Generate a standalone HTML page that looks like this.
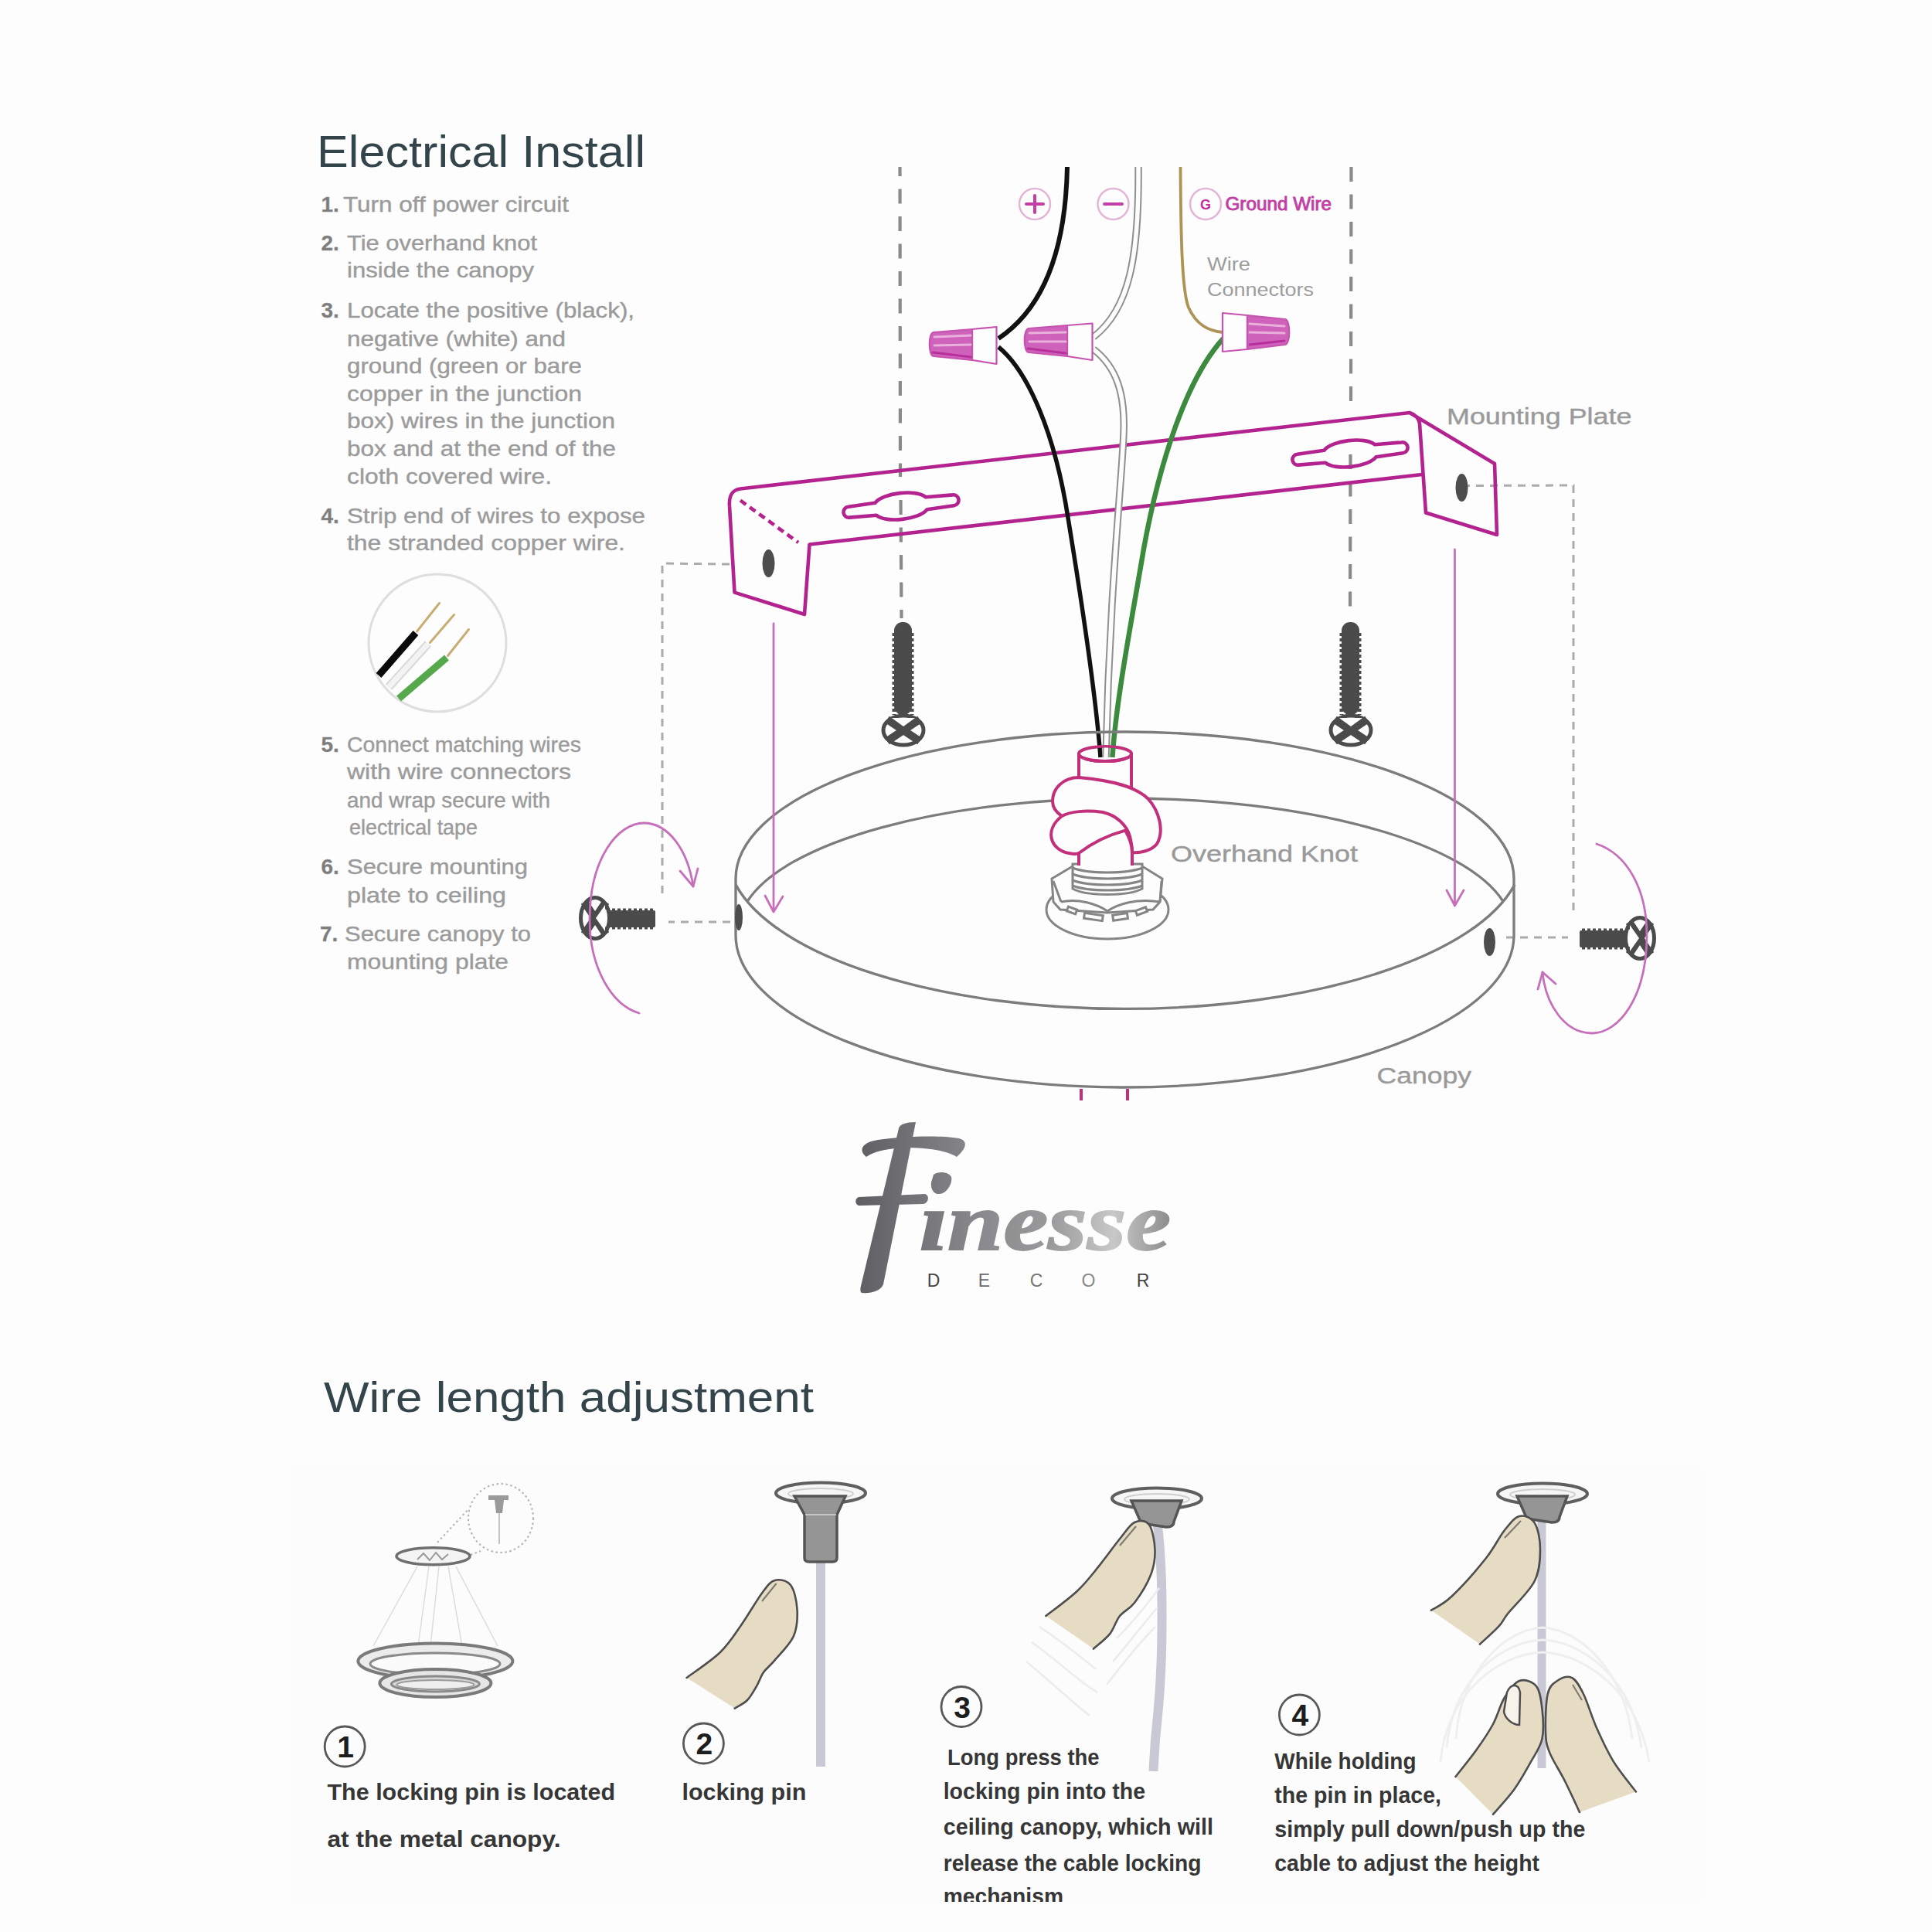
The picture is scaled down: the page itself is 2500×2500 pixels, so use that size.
<!DOCTYPE html>
<html>
<head>
<meta charset="utf-8">
<style>
html,body{margin:0;padding:0;background:#fdfdfd;}
body{width:2500px;height:2500px;overflow:hidden;}
svg{display:block;}
text{font-family:"Liberation Sans",sans-serif;}
</style>
</head>
<body>
<svg width="2500" height="2500" viewBox="0 0 2500 2500">
<rect x="0" y="0" width="2500" height="2500" fill="#fdfdfd"/>

<!-- ============ HEADINGS ============ -->
<g fill="#33454a">
<text x="410" y="216" font-size="57.5" textLength="425" lengthAdjust="spacingAndGlyphs">Electrical Install</text>
<text x="419" y="1826.5" font-size="55.5" textLength="634" lengthAdjust="spacingAndGlyphs">Wire length adjustment</text>
</g>

<!-- ============ LEFT COLUMN ============ -->
<g font-size="28" fill="#9b9b9b" stroke="#9b9b9b" stroke-width="0.4">
<g fill="#7c7c7c" font-weight="bold">
<text x="415.5" y="273.5">1.</text>
<text x="415.5" y="324">2.</text>
<text x="415.5" y="411.4">3.</text>
<text x="415.5" y="677">4.</text>
<text x="415.5" y="972.5">5.</text>
<text x="415.5" y="1130.7">6.</text>
<text x="414" y="1218.2">7.</text>
</g>
<text x="444" y="273.7" textLength="292" lengthAdjust="spacingAndGlyphs">Turn off power circuit</text>
<text x="449" y="324" textLength="246" lengthAdjust="spacingAndGlyphs">Tie overhand knot</text>
<text x="449" y="359" textLength="242" lengthAdjust="spacingAndGlyphs">inside the canopy</text>
<text x="449" y="411.4" textLength="372" lengthAdjust="spacingAndGlyphs">Locate the positive (black),</text>
<text x="449" y="447.5" textLength="283" lengthAdjust="spacingAndGlyphs">negative (white) and</text>
<text x="449" y="482.5" textLength="304" lengthAdjust="spacingAndGlyphs">ground (green or bare</text>
<text x="449" y="518.6" textLength="304" lengthAdjust="spacingAndGlyphs">copper in the junction</text>
<text x="449" y="554.2" textLength="347" lengthAdjust="spacingAndGlyphs">box) wires in the junction</text>
<text x="449" y="589.6" textLength="348" lengthAdjust="spacingAndGlyphs">box and at the end of the</text>
<text x="449" y="625.7" textLength="265" lengthAdjust="spacingAndGlyphs">cloth covered wire.</text>
<text x="449" y="677" textLength="386" lengthAdjust="spacingAndGlyphs">Strip end of wires to expose</text>
<text x="449" y="712" textLength="360" lengthAdjust="spacingAndGlyphs">the stranded copper wire.</text>
<text x="449" y="972.5" textLength="303" lengthAdjust="spacingAndGlyphs">Connect matching wires</text>
<text x="449" y="1007.9" textLength="290" lengthAdjust="spacingAndGlyphs">with wire connectors</text>
<text x="449" y="1044.9" textLength="263" lengthAdjust="spacingAndGlyphs">and wrap secure with</text>
<text x="452" y="1080.2" textLength="166" lengthAdjust="spacingAndGlyphs">electrical tape</text>
<text x="449" y="1130.7" textLength="234" lengthAdjust="spacingAndGlyphs">Secure mounting</text>
<text x="449" y="1167.7" textLength="206" lengthAdjust="spacingAndGlyphs">plate to ceiling</text>
<text x="446" y="1218.2" textLength="241" lengthAdjust="spacingAndGlyphs">Secure canopy to</text>
<text x="449" y="1253.5" textLength="209" lengthAdjust="spacingAndGlyphs">mounting plate</text>
</g>

<!-- wire strip circle -->
<g>
<circle cx="566" cy="832" r="89" fill="none" stroke="#dedede" stroke-width="3"/>
<line x1="539.5" y1="817" x2="568.5" y2="780.5" stroke="#c8ae74" stroke-width="3" stroke-linecap="round"/>
<line x1="556.5" y1="831.5" x2="587.5" y2="795.5" stroke="#c8ae74" stroke-width="3" stroke-linecap="round"/>
<line x1="579.5" y1="848.5" x2="606.5" y2="814.5" stroke="#c8ae74" stroke-width="3" stroke-linecap="round"/>
<line x1="490" y1="874" x2="538" y2="819" stroke="#0a0a0a" stroke-width="9"/>
<line x1="503" y1="889" x2="554" y2="833" stroke="#d9d9d9" stroke-width="11"/>
<line x1="503" y1="889" x2="554" y2="833" stroke="#f3f3f3" stroke-width="7"/>
<line x1="516" y1="904" x2="578" y2="851" stroke="#56a84c" stroke-width="9"/>
</g>

<!--DIAGRAM-->
<!-- ============ DIAGRAM ============ -->
<g id="diagram">
<!-- grey dashed guides -->
<g fill="none" stroke="#8a8a8a" stroke-width="4.2" stroke-dasharray="19 16.5">
<line x1="1164.5" y1="216" x2="1165" y2="617" stroke-dashoffset="7"/>
<line x1="1165.5" y1="647" x2="1166.5" y2="800"/>
<line x1="1748.5" y1="216" x2="1748" y2="521"/>
<line x1="1747.5" y1="588" x2="1747" y2="793"/>
</g>
<g fill="none" stroke="#ababab" stroke-width="3" stroke-dasharray="10 8">
<polyline points="944,730 857,729 857,1160"/>
<line x1="945" y1="1193" x2="865" y2="1193"/>
<polyline points="1892,628.5 2036,628 2036,1180"/>
<line x1="1949" y1="1213" x2="2029" y2="1213"/>
</g>

<!-- mounting plate -->
<g fill="none" stroke="#b3238f" stroke-width="4.6" stroke-linejoin="round">
<path d="M944,655 C943,640 948,634 958,632.5 L1824,534 L1934,600 L1937,692 L1845,663.5 L1837,548 C1836,540 1830,536 1824,534"/>
<path d="M944,655 L950.5,766.6 L1041,795 L1047.5,704.5 L1840,614"/>
<line x1="958" y1="647.5" x2="1033" y2="702" stroke-dasharray="9 6"/>
<path transform="translate(1166,655) rotate(-6.5)" d="M-68,-7 L-33,-8 C-22,-20 22,-20 33,-8 L68,-7 A7,7 0 0 1 68,7 L33,8 C22,20 -22,20 -33,8 L-68,7 A7,7 0 0 1 -68,-7 Z"/>
<path transform="translate(1747,587) rotate(-6.5)" d="M-68,-7 L-33,-8 C-22,-20 22,-20 33,-8 L68,-7 A7,7 0 0 1 68,7 L33,8 C22,20 -22,20 -33,8 L-68,7 A7,7 0 0 1 -68,-7 Z"/>
</g>
<ellipse cx="994.5" cy="729" rx="8" ry="18" fill="#4d4d4d"/>
<ellipse cx="1891.5" cy="631" rx="8" ry="18" fill="#4d4d4d"/>

<!-- wires -->
<g id="wires" fill="none" stroke-linecap="butt">
<path d="M1381,216 C1379,320 1352,398 1292,438" stroke="#111" stroke-width="6"/>
<path d="M1292,449 C1330,480 1365,560 1382,670 C1400,780 1418,900 1424,980" stroke="#111" stroke-width="5.5"/>
<path d="M1473,216 C1474,330 1462,400 1415,436 M1415,452 C1445,475 1456,510 1454,560 C1452,620 1436,760 1431,980" stroke="#8f8f8f" stroke-width="9.5"/>
<path d="M1473,216 C1474,330 1462,400 1415,436 M1415,452 C1445,475 1456,510 1454,560 C1452,620 1436,760 1431,980" stroke="#fdfdfd" stroke-width="5.5"/>
<path d="M1527.5,216 C1528,300 1529,375 1538,398 C1548,420 1563,428 1582,430" stroke="#ad9455" stroke-width="3.8"/>
<path d="M1583,438 C1535,490 1500,600 1480,710 C1465,800 1445,900 1439.4,980" stroke="#3b8a3e" stroke-width="6.5"/>
</g>
<!-- wire connectors -->
<g stroke="#c654ae" stroke-width="2.2" stroke-linejoin="round">
<path d="M1258,426 L1289.5,423 L1289.5,471 L1258,466 Z" fill="#fdfdfd"/>
<path d="M1258,426 L1208,430 C1201,431 1201,460 1208,461 L1258,466 Z" fill="#cf62ba"/>
<path d="M1381,421 L1413.5,418.5 L1413.5,466 L1381,461 Z" fill="#fdfdfd"/>
<path d="M1381,421 L1331,425 C1324,426 1324,455 1331,456 L1381,461 Z" fill="#cf62ba"/>
<path d="M1614,408 L1582,405 L1582,455 L1614,452 Z" fill="#fdfdfd"/>
<path d="M1614,408 L1663,413 C1670,414 1670,445 1663,446 L1614,452 Z" fill="#cf62ba"/>
</g>
<g fill="none" stroke-linecap="round">
<path d="M1209,436 L1256,434 M1209,447 L1256,446" stroke="#e8b0da" stroke-width="3"/>
<path d="M1332,431 L1379,430 M1332,442 L1379,442" stroke="#e8b0da" stroke-width="3"/>
<path d="M1617,419 L1662,422 M1617,430 L1662,431" stroke="#e8b0da" stroke-width="3"/>
<path d="M1207,456 L1256,462 M1330,451 L1379,457 M1617,446 L1662,441" stroke="#b8309c" stroke-width="3"/>
</g>

<!-- + - G symbols -->
<g fill="none" stroke="#e2b5d7" stroke-width="2.5">
<circle cx="1339" cy="264" r="20"/>
<circle cx="1440.5" cy="264" r="20"/>
<circle cx="1560" cy="264" r="20"/>
</g>
<g stroke="#c23fa6" stroke-width="4" stroke-linecap="round">
<line x1="1328" y1="264" x2="1350" y2="264"/>
<line x1="1339" y1="253" x2="1339" y2="275"/>
<line x1="1429" y1="264" x2="1452" y2="264"/>
</g>
<text x="1553" y="270.5" font-size="18" font-weight="bold" fill="#c0309f">G</text>
<text x="1585.5" y="272" font-size="23" fill="#c23fa6" stroke="#c23fa6" stroke-width="0.9" textLength="137.5" lengthAdjust="spacingAndGlyphs">Ground Wire</text>
<g fill="#9d9d9d" font-size="23">
<text x="1562" y="350" textLength="56" lengthAdjust="spacingAndGlyphs">Wire</text>
<text x="1562" y="383" textLength="138" lengthAdjust="spacingAndGlyphs">Connectors</text>
</g>

<!-- canopy -->
<g fill="none" stroke="#7c7c7c" stroke-width="3.3">
<path d="M952,1137 A503.5,190 0 0 1 1959,1137"/>
<path d="M952,1137 L952,1208 A503.5,197 0 0 0 1959,1212 L1959,1137"/>
<path d="M952,1144.6 A515,202.5 0 0 0 1960,1144.6"/>
<path d="M967,1166.5 A500,168.7 0 0 1 1945,1166.5"/>
</g>
<ellipse cx="956" cy="1187" rx="5" ry="17" fill="#4d4d4d"/>
<ellipse cx="1927.5" cy="1219" rx="7.5" ry="18" fill="#4d4d4d"/>

<!-- nut -->
<g fill="#fdfdfd" stroke="#858585" stroke-width="3">
<ellipse cx="1433" cy="1177" rx="79" ry="38"/>
<path d="M1361,1137 L1388,1121 L1478,1121 L1504,1137 L1501,1167 L1492,1177 L1433,1181 L1372,1177 L1363,1167 Z"/>
<path d="M1373,1167 C1395,1162 1420,1170 1433,1179 C1446,1170 1471,1162 1501,1167" fill="none"/>
<path d="M1363,1140 L1373,1167 M1503,1140 L1501,1167" fill="none"/>
<rect x="1381" y="1175" width="12" height="6" transform="rotate(20 1387 1178)"/>
<rect x="1403" y="1183" width="24" height="7" transform="rotate(8 1415 1186)"/>
<rect x="1440" y="1183" width="19" height="7" transform="rotate(-8 1449 1186)"/>
<rect x="1470" y="1176" width="14" height="6" transform="rotate(-20 1477 1179)"/>
<path d="M1388,1118 L1478,1118 L1478,1150 C1460,1160 1406,1160 1388,1150 Z"/>
<path d="M1388,1123 C1408,1131 1458,1131 1478,1123 M1388,1131 C1408,1139 1458,1139 1478,1131 M1388,1139 C1408,1147 1458,1147 1478,1139 M1388,1146 C1408,1154 1458,1154 1478,1146" fill="none"/>
</g>

<!-- knot -->
<g fill="#fdfdfd" stroke="#c2307c" stroke-width="4" stroke-linejoin="round">
<path d="M1396,1095 L1396,1120 L1465,1120 L1465,1090 Z" stroke="none"/>
<line x1="1396" y1="1104" x2="1396" y2="1120"/>
<line x1="1465" y1="1092" x2="1465" y2="1120"/>
<path d="M1396,975 L1396,1010 L1464,1020 L1464,975 Z"/>
<ellipse cx="1430" cy="975.5" rx="34" ry="9.5"/>
<path d="M1374,1056 C1350,1075 1360,1100 1383,1104 C1388,1105 1394,1105 1396,1104 C1405,1097 1425,1083 1456,1074.6 C1462,1085 1465,1095 1465,1103 C1475,1104 1490,1101 1497,1092 C1507,1075 1500,1050 1486,1034 C1470,1018 1440,1010 1396,1006 C1376,1006 1362,1020 1362,1037 C1362,1046 1368,1052 1374,1056 Z"/>
<path d="M1374,1056 C1385,1050 1405,1048 1427,1051 C1445,1055 1458,1068 1462,1082 C1464,1090 1465,1096 1465,1103" fill="none"/>
</g>
<defs><clipPath id="sleeveclip"><ellipse cx="1430" cy="975.5" rx="32" ry="8"/></clipPath></defs>
<use href="#wires" clip-path="url(#sleeveclip)"/>
<path d="M1396,975.5 A34,9.5 0 0 0 1464,975.5" fill="none" stroke="#c2307c" stroke-width="4"/>

<!-- screws -->
<g id="screwV" transform="translate(0,-3)">
<rect x="1157" y="808" width="23" height="120" rx="11" fill="#4b4b4b"/>
<line x1="1157" y1="822" x2="1157" y2="928" stroke="#4b4b4b" stroke-width="5" stroke-dasharray="4 3"/>
<line x1="1180" y1="822" x2="1180" y2="928" stroke="#4b4b4b" stroke-width="5" stroke-dasharray="4 3"/>
<ellipse cx="1169" cy="948" rx="26" ry="19" fill="#fdfdfd" stroke="#4b4b4b" stroke-width="5"/>
<path d="M1148,934 L1190,962 M1190,934 L1148,962" stroke="#4b4b4b" stroke-width="10"/>
<path d="M1154,932 L1184,932 L1169,943 Z" fill="#fdfdfd"/>
</g>
<use href="#screwV" transform="translate(579,0)"/>
<g id="screwH">
<rect x="780" y="1178" width="68" height="22" rx="2" fill="#4b4b4b"/>
<line x1="792" y1="1178" x2="848" y2="1178" stroke="#4b4b4b" stroke-width="5" stroke-dasharray="4 3"/>
<line x1="792" y1="1200" x2="848" y2="1200" stroke="#4b4b4b" stroke-width="5" stroke-dasharray="4 3"/>
<ellipse cx="770" cy="1188" rx="18.5" ry="26.5" fill="#fdfdfd" stroke="#4b4b4b" stroke-width="5"/>
<path d="M756,1167 L784,1209 M756,1209 L784,1167" stroke="#4b4b4b" stroke-width="10"/>
<path d="M783,1171 L783,1205 L771,1188 Z" fill="#fdfdfd"/>
</g>
<g transform="translate(2892,26) scale(-1,1)">
<use href="#screwH"/>
</g>

<!-- magenta arrows -->
<g fill="none" stroke="#c66fba" stroke-width="2.8" stroke-linecap="round" stroke-linejoin="round">
<line x1="1001" y1="807" x2="1001" y2="1179"/>
<polyline points="990,1159 1001,1180 1013,1160"/>
<line x1="1882.5" y1="711" x2="1882.5" y2="1171"/>
<polyline points="1872,1152 1882.5,1172 1894,1152"/>
<path d="M827,1311 C790,1300 763,1250 763,1190 C763,1110 800,1065 833,1065 C865,1065 890,1100 897,1147"/>
<polyline points="880,1127 897,1147 903,1124"/>
<path d="M2066,1092 C2105,1105 2131,1150 2131,1210 C2131,1290 2095,1337 2060,1337 C2025,1337 2000,1300 1996,1258"/>
<polyline points="1990,1280 1996,1258 2013,1273"/>
</g>
<g stroke="#c2307c" stroke-width="4">
<line x1="1399" y1="1409" x2="1399" y2="1424"/>
<line x1="1459" y1="1409" x2="1459" y2="1424"/>
</g>

<!-- labels -->
<g fill="#9a9a9a" font-size="29" stroke="#9a9a9a" stroke-width="0.4">
<text x="1872" y="548.5" textLength="239.5" lengthAdjust="spacingAndGlyphs">Mounting Plate</text>
<text x="1515" y="1115" textLength="242" lengthAdjust="spacingAndGlyphs">Overhand Knot</text>
<text x="1781.5" y="1402" textLength="122.5" lengthAdjust="spacingAndGlyphs">Canopy</text>
</g>
</g>

<!--LOGO-->
<!-- ============ LOGO ============ -->
<g id="logo">
<defs>
<linearGradient id="lg" x1="1105" y1="0" x2="1515" y2="0" gradientUnits="userSpaceOnUse">
<stop offset="0" stop-color="#5d5d62"/>
<stop offset="0.4" stop-color="#8a8a8e"/>
<stop offset="0.62" stop-color="#9a9a9c"/>
<stop offset="0.82" stop-color="#c8c8c8"/>
<stop offset="1" stop-color="#8c8c8c"/>
</linearGradient>
</defs>
<g fill="url(#lg)">
<path d="M1163,1460 C1164,1455 1172,1452 1185,1452 L1143,1662 C1140,1670 1128,1674 1115,1673 C1113,1672 1113,1668 1114,1664 Z"/>
<path d="M1121,1497 C1110,1488 1116,1478 1136,1475 C1172,1470 1218,1469 1241,1473 C1252,1476 1252,1485 1238,1497 C1226,1489 1200,1485 1172,1485 C1150,1486 1132,1489 1121,1497 Z"/>
<path d="M1111,1549 L1197,1545 C1203,1547 1202,1556 1195,1558 L1111,1560 C1106,1558 1106,1551 1111,1549 Z"/>
<text x="1190" y="1617" style="font-family:'Liberation Serif',serif" font-style="italic" font-weight="bold" font-size="106" textLength="325" lengthAdjust="spacingAndGlyphs" stroke="url(#lg)" stroke-width="2">ınesse</text>
<path d="M1208,1520 C1214,1515 1228,1516 1231,1523 C1233,1530 1226,1544 1216,1545 C1208,1546 1204,1538 1205,1530 Z"/>
</g>
<g font-size="23" text-anchor="middle">
<text x="1208" y="1664.5" fill="#444">D</text>
<text x="1273.5" y="1664.5" fill="#6a6a6a">E</text>
<text x="1341" y="1664.5" fill="#777">C</text>
<text x="1408.5" y="1664.5" fill="#8a8a8a">O</text>
<text x="1479" y="1664.5" fill="#444">R</text>
</g>
</g>

<!--LOWER-->
<!-- ============ LOWER ============ -->
<g id="lower">
<rect x="375" y="1899" width="1830" height="562" fill="#fcfcfc"/>
<g fill="none">
<g stroke="#dcdcdc" stroke-width="1.5">
<line x1="540" y1="2027" x2="483" y2="2130"/>
<line x1="555" y1="2027" x2="541" y2="2130"/>
<line x1="568" y1="2027" x2="557" y2="2130"/>
<line x1="580" y1="2027" x2="598" y2="2130"/>
<line x1="590" y1="2027" x2="644" y2="2130"/>
</g>
<g stroke="#b5b5b5" stroke-width="2.2" stroke-dasharray="2.5 3.5">
<ellipse cx="648" cy="1964.5" rx="42" ry="44.5"/>
<line x1="566" y1="1996" x2="606" y2="1953"/>
<line x1="609" y1="2012" x2="622" y2="2007"/>
</g>
<path d="M632,1935 L658,1935 L658,1941 L652,1941 L650,1958 L642,1958 L640,1941 L632,1941 Z" fill="#9a9a9a"/>
<line x1="646" y1="1958" x2="646" y2="1998" stroke="#b0b0b0" stroke-width="1.5"/>
<ellipse cx="560.5" cy="2013.8" rx="47.5" ry="11" stroke="#6f6f6f" stroke-width="3.5" fill="#f4f4f4"/>
<path d="M540,2018 L548,2010 L556,2019 L564,2009 L572,2018 L580,2011" stroke="#9a9a9a" stroke-width="2"/>
<ellipse cx="563.4" cy="2149.5" rx="100" ry="23" stroke="#7a7a7a" stroke-width="4" fill="#ececec"/>
<ellipse cx="563" cy="2153" rx="84" ry="14" stroke="#8a8a8a" stroke-width="3" fill="#fbfbfb"/>
<ellipse cx="563.4" cy="2178" rx="72" ry="18" stroke="#7a7a7a" stroke-width="4" fill="#e6e6e6"/>
<ellipse cx="563.4" cy="2179" rx="57" ry="10" stroke="#8a8a8a" stroke-width="3" fill="#d8d8d8"/>
<ellipse cx="563.4" cy="2180" rx="50" ry="6" stroke="#9a9a9a" stroke-width="2" fill="#efefef"/>
</g>
<rect x="1056" y="2010" width="12" height="276" fill="#c9c9d6"/>
<g>
<ellipse cx="1062.0" cy="1932.0" rx="58" ry="13.5" fill="#f6f6f6" stroke="#5f5f5f" stroke-width="4"/>
<ellipse cx="1062.0" cy="1933.0" rx="42" ry="7" fill="none" stroke="#cfcfcf" stroke-width="2"/>
<path d="M1028.0,1936.0 L1094.0,1936.0 L1083.0,1960.0 L1083.0,2016.0 Q1083.0,2021.0 1077.0,2021.0 L1047.0,2021.0 Q1041.0,2021.0 1041.0,2016.0 L1041.0,1960.0 Z" fill="#959595" stroke="#555555" stroke-width="3.5"/>
<line x1="1042.0" y1="1960.0" x2="1082.0" y2="1960.0" stroke="#c4c4c4" stroke-width="2"/>
</g>
<path d="M888.6,2171.0 C895.8,2165.5 920.3,2149.3 932.0,2138.0 C943.7,2126.7 950.0,2115.8 959.0,2103.0 C968.0,2090.2 978.8,2071.2 986.0,2061.5 C993.2,2051.8 996.3,2046.8 1002.5,2045.0 C1008.7,2043.2 1018.2,2044.8 1023.0,2051.0 C1027.8,2057.2 1030.8,2071.0 1031.5,2082.0 C1032.2,2093.0 1031.8,2105.9 1027.0,2117.0 C1022.2,2128.1 1009.0,2140.6 1002.5,2148.4 C996.0,2156.2 991.9,2158.4 988.0,2164.0 C984.1,2169.6 982.5,2176.0 979.0,2182.0 C975.5,2188.0 971.7,2195.2 967.0,2200.0 C962.3,2204.8 953.4,2208.8 950.7,2210.6 Z" fill="#e6dcc3" stroke="none"/>
<path d="M888.6,2171.0 C895.8,2165.5 920.3,2149.3 932.0,2138.0 C943.7,2126.7 950.0,2115.8 959.0,2103.0 C968.0,2090.2 978.8,2071.2 986.0,2061.5 C993.2,2051.8 996.3,2046.8 1002.5,2045.0 C1008.7,2043.2 1018.2,2044.8 1023.0,2051.0 C1027.8,2057.2 1030.8,2071.0 1031.5,2082.0 C1032.2,2093.0 1031.8,2105.9 1027.0,2117.0 C1022.2,2128.1 1009.0,2140.6 1002.5,2148.4 C996.0,2156.2 991.9,2158.4 988.0,2164.0 C984.1,2169.6 982.5,2176.0 979.0,2182.0 C975.5,2188.0 971.7,2195.2 967.0,2200.0 C962.3,2204.8 953.4,2208.8 950.7,2210.6" fill="none" stroke="#4e4e4e" stroke-width="2.6" stroke-linecap="round" stroke-linejoin="round"/>
<path d="M986.0,2072.0 C989.1,2068.2 1001.5,2052.8 1004.6,2049.0" fill="none" stroke="#4e4e4e" stroke-width="2" opacity="0.7"/>
<path d="M1497.7,1972 C1506,2040 1505,2150 1498,2220 C1494,2255 1493,2280 1492.5,2292" fill="none" stroke="#c9c9d6" stroke-width="12"/>
<g>
<ellipse cx="1497.0" cy="1939.0" rx="58" ry="13.5" fill="#f6f6f6" stroke="#5f5f5f" stroke-width="4"/>
<ellipse cx="1497.0" cy="1940.0" rx="42" ry="7" fill="none" stroke="#cfcfcf" stroke-width="2"/>
<path d="M1464.0,1942.0 L1529.0,1942.0 L1519.0,1969.0 Q1519.0,1976.0 1509.0,1976.0 L1483.0,1972.0 Q1475.0,1972.0 1475.0,1967.0 Z" fill="#959595" stroke="#555555" stroke-width="3.5"/>
</g>
<g fill="none" stroke="#ececec" stroke-width="2.5">
<path d="M1345,2105 C1375,2125 1400,2145 1418,2160 M1335,2125 C1370,2150 1395,2175 1420,2190 M1328,2150 C1362,2178 1390,2205 1410,2220 M1445,2120 C1465,2100 1485,2075 1500,2055 M1440,2150 C1462,2125 1480,2100 1498,2080 M1432,2180 C1455,2150 1475,2125 1495,2105"/>
</g>
<path d="M1353.4,2091.0 C1360.1,2085.7 1382.4,2069.6 1393.7,2059.0 C1405.0,2048.4 1412.1,2038.7 1421.3,2027.4 C1430.5,2016.1 1441.2,2000.9 1449.0,1991.3 C1456.8,1981.7 1461.7,1973.0 1468.0,1970.0 C1474.3,1967.0 1482.6,1967.0 1487.0,1973.0 C1491.4,1979.0 1494.2,1995.2 1494.5,2006.0 C1494.8,2016.8 1493.4,2026.7 1489.0,2038.0 C1484.6,2049.3 1474.7,2065.2 1468.0,2074.0 C1461.3,2082.8 1454.3,2084.3 1449.0,2091.0 C1443.7,2097.7 1441.7,2107.3 1436.0,2114.4 C1430.3,2121.5 1418.5,2130.3 1415.0,2133.5 Z" fill="#e6dcc3" stroke="none"/>
<path d="M1353.4,2091.0 C1360.1,2085.7 1382.4,2069.6 1393.7,2059.0 C1405.0,2048.4 1412.1,2038.7 1421.3,2027.4 C1430.5,2016.1 1441.2,2000.9 1449.0,1991.3 C1456.8,1981.7 1461.7,1973.0 1468.0,1970.0 C1474.3,1967.0 1482.6,1967.0 1487.0,1973.0 C1491.4,1979.0 1494.2,1995.2 1494.5,2006.0 C1494.8,2016.8 1493.4,2026.7 1489.0,2038.0 C1484.6,2049.3 1474.7,2065.2 1468.0,2074.0 C1461.3,2082.8 1454.3,2084.3 1449.0,2091.0 C1443.7,2097.7 1441.7,2107.3 1436.0,2114.4 C1430.3,2121.5 1418.5,2130.3 1415.0,2133.5" fill="none" stroke="#4e4e4e" stroke-width="2.6" stroke-linecap="round" stroke-linejoin="round"/>
<path d="M1449.0,2000.0 C1452.5,1995.8 1466.5,1979.2 1470.0,1975.0" fill="none" stroke="#4e4e4e" stroke-width="2" opacity="0.7"/>
<rect x="1989.5" y="1966" width="11" height="322" fill="#c9c9d6"/>
<g>
<ellipse cx="1996.0" cy="1933.0" rx="58" ry="13.5" fill="#f6f6f6" stroke="#5f5f5f" stroke-width="4"/>
<ellipse cx="1996.0" cy="1934.0" rx="42" ry="7" fill="none" stroke="#cfcfcf" stroke-width="2"/>
<path d="M1963.0,1936.0 L2028.0,1936.0 L2018.0,1963.0 Q2018.0,1970.0 2008.0,1970.0 L1982.0,1966.0 Q1974.0,1966.0 1974.0,1961.0 Z" fill="#959595" stroke="#555555" stroke-width="3.5"/>
</g>
<g fill="none" stroke="#efefef" stroke-width="3">
<path d="M1884,2250 C1890,2160 1950,2108 1996,2106 C2042,2108 2102,2160 2112,2250 M1872,2262 C1880,2170 1945,2124 1996,2122 C2047,2124 2112,2170 2124,2262 M1864,2280 C1872,2190 1940,2140 1996,2138 C2052,2140 2120,2190 2134,2280"/>
</g>
<path d="M1852.0,2083.7 C1856.5,2080.7 1867.0,2076.7 1878.7,2065.5 C1890.5,2054.3 1911.2,2031.0 1922.5,2016.8 C1933.8,2002.6 1939.5,1989.4 1946.8,1980.3 C1954.0,1971.2 1959.5,1963.6 1966.0,1962.0 C1972.5,1960.4 1981.2,1963.5 1985.7,1970.6 C1990.2,1977.7 1993.0,1992.0 1993.0,2004.6 C1993.0,2017.2 1992.6,2032.2 1985.7,2046.0 C1978.8,2059.8 1959.4,2077.6 1951.7,2087.3 C1944.0,2097.0 1945.6,2097.7 1939.5,2104.4 C1933.4,2111.1 1919.1,2123.7 1915.0,2127.5 Z" fill="#e6dcc3" stroke="none"/>
<path d="M1852.0,2083.7 C1856.5,2080.7 1867.0,2076.7 1878.7,2065.5 C1890.5,2054.3 1911.2,2031.0 1922.5,2016.8 C1933.8,2002.6 1939.5,1989.4 1946.8,1980.3 C1954.0,1971.2 1959.5,1963.6 1966.0,1962.0 C1972.5,1960.4 1981.2,1963.5 1985.7,1970.6 C1990.2,1977.7 1993.0,1992.0 1993.0,2004.6 C1993.0,2017.2 1992.6,2032.2 1985.7,2046.0 C1978.8,2059.8 1959.4,2077.6 1951.7,2087.3 C1944.0,2097.0 1945.6,2097.7 1939.5,2104.4 C1933.4,2111.1 1919.1,2123.7 1915.0,2127.5" fill="none" stroke="#4e4e4e" stroke-width="2.6" stroke-linecap="round" stroke-linejoin="round"/>
<path d="M1947.0,1990.0 C1950.5,1986.3 1964.5,1971.7 1968.0,1968.0" fill="none" stroke="#4e4e4e" stroke-width="2" opacity="0.7"/>
<path d="M1883.5,2299.0 C1887.9,2293.3 1901.9,2276.3 1910.0,2265.0 C1918.1,2253.7 1925.9,2242.4 1932.0,2231.0 C1938.1,2219.6 1941.1,2206.1 1946.8,2196.8 C1952.5,2187.5 1959.1,2177.5 1966.0,2175.0 C1972.9,2172.5 1983.1,2175.9 1988.0,2182.0 C1992.9,2188.1 1994.2,2200.2 1995.5,2211.5 C1996.8,2222.8 1997.9,2238.7 1995.5,2250.0 C1993.1,2261.3 1987.1,2268.6 1981.0,2279.6 C1974.9,2290.6 1967.2,2304.7 1959.0,2316.0 C1950.8,2327.3 1936.5,2342.4 1932.0,2347.7 Z" fill="#e6dcc3" stroke="none"/>
<path d="M1883.5,2299.0 C1887.9,2293.3 1901.9,2276.3 1910.0,2265.0 C1918.1,2253.7 1925.9,2242.4 1932.0,2231.0 C1938.1,2219.6 1941.1,2206.1 1946.8,2196.8 C1952.5,2187.5 1959.1,2177.5 1966.0,2175.0 C1972.9,2172.5 1983.1,2175.9 1988.0,2182.0 C1992.9,2188.1 1994.2,2200.2 1995.5,2211.5 C1996.8,2222.8 1997.9,2238.7 1995.5,2250.0 C1993.1,2261.3 1987.1,2268.6 1981.0,2279.6 C1974.9,2290.6 1967.2,2304.7 1959.0,2316.0 C1950.8,2327.3 1936.5,2342.4 1932.0,2347.7" fill="none" stroke="#4e4e4e" stroke-width="2.6" stroke-linecap="round" stroke-linejoin="round"/>
<path d="M1950,2190 C1955,2178 1965,2178 1967,2190 L1966,2232 C1958,2232 1948,2225 1946,2215 Z" fill="#f7f3ea" stroke="#4e4e4e" stroke-width="2.5"/>
<path d="M2044.0,2345.0 C2040.8,2338.2 2031.1,2316.9 2024.6,2304.0 C2018.1,2291.1 2009.1,2278.0 2005.0,2267.4 C2000.9,2256.8 2000.4,2253.2 2000.0,2240.6 C1999.6,2228.0 2000.2,2202.9 2002.7,2192.0 C2005.2,2181.1 2009.8,2178.5 2015.0,2175.0 C2020.2,2171.5 2028.3,2168.2 2034.0,2171.0 C2039.7,2173.8 2043.7,2181.2 2049.0,2192.0 C2054.3,2202.8 2059.5,2221.2 2066.0,2235.8 C2072.5,2250.4 2079.5,2265.8 2088.0,2279.6 C2096.5,2293.4 2112.2,2312.0 2117.0,2318.5 Z" fill="#e6dcc3" stroke="none"/>
<path d="M2044.0,2345.0 C2040.8,2338.2 2031.1,2316.9 2024.6,2304.0 C2018.1,2291.1 2009.1,2278.0 2005.0,2267.4 C2000.9,2256.8 2000.4,2253.2 2000.0,2240.6 C1999.6,2228.0 2000.2,2202.9 2002.7,2192.0 C2005.2,2181.1 2009.8,2178.5 2015.0,2175.0 C2020.2,2171.5 2028.3,2168.2 2034.0,2171.0 C2039.7,2173.8 2043.7,2181.2 2049.0,2192.0 C2054.3,2202.8 2059.5,2221.2 2066.0,2235.8 C2072.5,2250.4 2079.5,2265.8 2088.0,2279.6 C2096.5,2293.4 2112.2,2312.0 2117.0,2318.5" fill="none" stroke="#4e4e4e" stroke-width="2.6" stroke-linecap="round" stroke-linejoin="round"/>
<path d="M2035.0,2180.0 C2037.0,2183.3 2045.0,2196.7 2047.0,2200.0" fill="none" stroke="#4e4e4e" stroke-width="2" opacity="0.7"/>
<g fill="none" stroke="#585858" stroke-width="2.8">
<circle cx="446.2" cy="2260.0" r="26"/>
<circle cx="910.4" cy="2256.0" r="26"/>
<circle cx="1244.0" cy="2208.5" r="26"/>
<circle cx="1681.4" cy="2219.0" r="26"/>
</g>
<g fill="#1e1e1e" font-size="39" font-weight="bold" text-anchor="middle">
<text x="447.2" y="2274.0">1</text>
<text x="911.4" y="2270.0">2</text>
<text x="1245.0" y="2222.5">3</text>
<text x="1682.4" y="2233.0">4</text>
</g>
<defs><clipPath id="panelclip"><rect x="0" y="0" width="2500" height="2461"/></clipPath></defs>
<g fill="#363636" font-size="30" font-weight="bold" clip-path="url(#panelclip)">
<text x="423.5" y="2328.7" textLength="372.5" lengthAdjust="spacingAndGlyphs">The locking pin is located</text>
<text x="423.5" y="2389.8" textLength="302.0" lengthAdjust="spacingAndGlyphs">at the metal canopy.</text>
<text x="882.5" y="2328.6" textLength="160.8" lengthAdjust="spacingAndGlyphs">locking pin</text>
<text x="1226.0" y="2283.7" textLength="196.6" lengthAdjust="spacingAndGlyphs">Long press the</text>
<text x="1220.7" y="2327.7" textLength="261.3" lengthAdjust="spacingAndGlyphs">locking pin into the</text>
<text x="1220.7" y="2374.0" textLength="349.3" lengthAdjust="spacingAndGlyphs">ceiling canopy, which will</text>
<text x="1220.7" y="2421.0" textLength="333.8" lengthAdjust="spacingAndGlyphs">release the cable locking</text>
<text x="1220.7" y="2464.0" textLength="155.3" lengthAdjust="spacingAndGlyphs">mechanism</text>
<text x="1649.3" y="2289.0" textLength="183.2" lengthAdjust="spacingAndGlyphs">While holding</text>
<text x="1649.3" y="2333.0" textLength="215.7" lengthAdjust="spacingAndGlyphs">the pin in place,</text>
<text x="1649.3" y="2377.0" textLength="402.0" lengthAdjust="spacingAndGlyphs">simply pull down/push up the</text>
<text x="1649.3" y="2421.0" textLength="342.7" lengthAdjust="spacingAndGlyphs">cable to adjust the height</text>
</g>
</g>
</svg>
</body>
</html>
